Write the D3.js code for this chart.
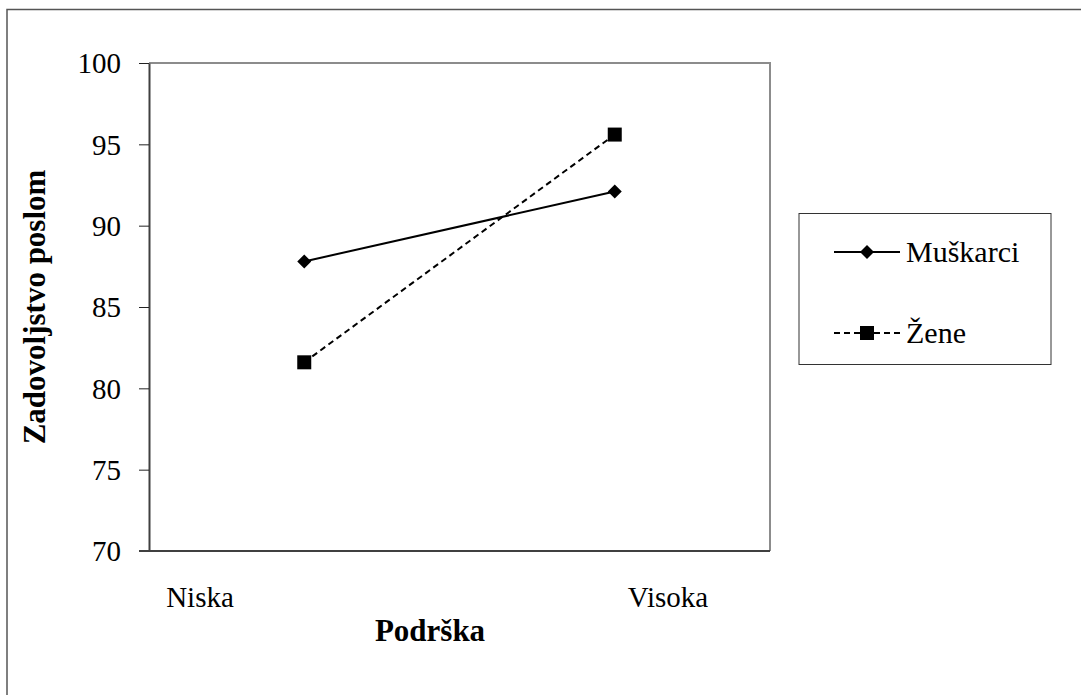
<!DOCTYPE html>
<html>
<head>
<meta charset="utf-8">
<script src="https://cdn.jsdelivr.net/npm/d3@7"></script>
<style>
  body { margin: 0; background: #fff; }
  svg, svg text { font-family: "Liberation Serif", "Times New Roman", Times, serif; }
</style>
</head>
<body>
<div id="chart"></div>
<script>
// kategorije podrške i srednje vrijednosti zadovoljstva poslom
const categories = ["Niska", "Visoka"];
const seriesNames = ["Muškarci", "Žene"];
const muskarci = [87.8, 92.1];
const zene = [81.6, 95.6];
const yTicks = [70, 75, 80, 85, 90, 95, 100];

const width = 1081, height = 695;
const plot = { left: 149, top: 63, right: 770, bottom: 551 };
const FONT = '"Liberation Serif", "Times New Roman", Times, serif';

const svg = d3.select('#chart').append('svg')
  .attr('width', width).attr('height', height);

// okvir cijele slike
svg.append('rect')
  .attr('x', 7).attr('y', 9.5).attr('width', 1090).attr('height', 700)
  .attr('fill', 'none').attr('stroke', '#555').attr('stroke-width', 1.5);

const x = d3.scaleBand().domain(categories).range([plot.left, plot.right]);
const y = d3.scaleLinear().domain([70, 100]).range([plot.bottom, plot.top]);
// Excel smješta oznake kategorija drugačije od točaka
const xLabel = d3.scalePoint().domain(categories).range([200, 668]);

// gornja i desna strana plot area (siva)
svg.append('path')
  .attr('d', `M${plot.left},${plot.top}H${plot.right}V${plot.bottom}`)
  .attr('fill', 'none').attr('stroke', '#8c8c8c').attr('stroke-width', 2);

// os Y
const yAxis = svg.append('g')
  .attr('transform', `translate(${plot.left},0)`)
  .call(d3.axisLeft(y).tickValues(yTicks).tickSize(10).tickPadding(18).tickSizeOuter(0));
yAxis.attr('font-family', FONT).attr('font-size', 29);
yAxis.select('.domain').attr('stroke', '#404040').attr('stroke-width', 2);
yAxis.selectAll('.tick line').attr('stroke', '#222').attr('stroke-width', 1);
yAxis.selectAll('.tick text').attr('fill', '#000').attr('dy', '0.34em');

// os X (samo linija)
svg.append('line')
  .attr('x1', plot.left - 10).attr('x2', plot.right)
  .attr('y1', plot.bottom).attr('y2', plot.bottom)
  .attr('stroke', '#404040').attr('stroke-width', 2);

svg.selectAll('.cat').data(categories).enter().append('text')
  .attr('x', d => xLabel(d)).attr('y', 607)
  .attr('text-anchor', 'middle').attr('font-size', '29px')
  .attr('font-family', FONT)
  .text(d => d);

// naslovi osi
svg.append('text')
  .attr('x', 430).attr('y', 641).attr('text-anchor', 'middle')
  .attr('font-size', '31px').attr('font-weight', 'bold')
  .attr('font-family', FONT)
  .text('Podrška');
svg.append('text')
  .attr('transform', `translate(45,${(plot.top + plot.bottom) / 2}) rotate(-90)`)
  .attr('text-anchor', 'middle')
  .attr('font-size', '31px').attr('font-weight', 'bold')
  .attr('font-family', FONT)
  .text('Zadovoljstvo poslom');

const cx = d => x(d) + x.bandwidth() / 2;
const line = d3.line().x((v, i) => cx(categories[i])).y(v => y(v));

const series = [
  { name: seriesNames[0], values: muskarci, dash: null, marker: 'diamond' },
  { name: seriesNames[1], values: zene, dash: '6,4', marker: 'square' },
];

function drawMarker(g, type, px, py) {
  if (type === 'diamond') {
    g.append('path')
      .attr('d', `M${px},${py - 7}L${px + 7},${py}L${px},${py + 7}L${px - 7},${py}Z`)
      .attr('fill', '#000');
  } else {
    g.append('rect')
      .attr('x', px - 7).attr('y', py - 7).attr('width', 14).attr('height', 14)
      .attr('fill', '#000');
  }
}

series.forEach(s => {
  svg.append('path')
    .attr('d', line(s.values))
    .attr('fill', 'none').attr('stroke', '#000').attr('stroke-width', 2)
    .attr('stroke-dasharray', s.dash);
  s.values.forEach((v, i) => drawMarker(svg, s.marker, cx(categories[i]), y(v)));
});

// legenda
const lg = svg.append('g');
lg.append('rect')
  .attr('x', 799).attr('y', 213.5).attr('width', 252).attr('height', 151)
  .attr('fill', '#fff').attr('stroke', '#333').attr('stroke-width', 1);
series.forEach((s, i) => {
  const ly = 252 + i * 81;
  lg.append('line')
    .attr('x1', 834).attr('x2', 900).attr('y1', ly).attr('y2', ly)
    .attr('stroke', '#000').attr('stroke-width', 2)
    .attr('stroke-dasharray', s.dash);
  drawMarker(lg, s.marker, 867, ly);
  lg.append('text')
    .attr('x', 906).attr('y', ly + 10)
    .attr('font-size', '30px').attr('font-family', FONT)
    .text(s.name);
});
</script>
</body>
</html>
